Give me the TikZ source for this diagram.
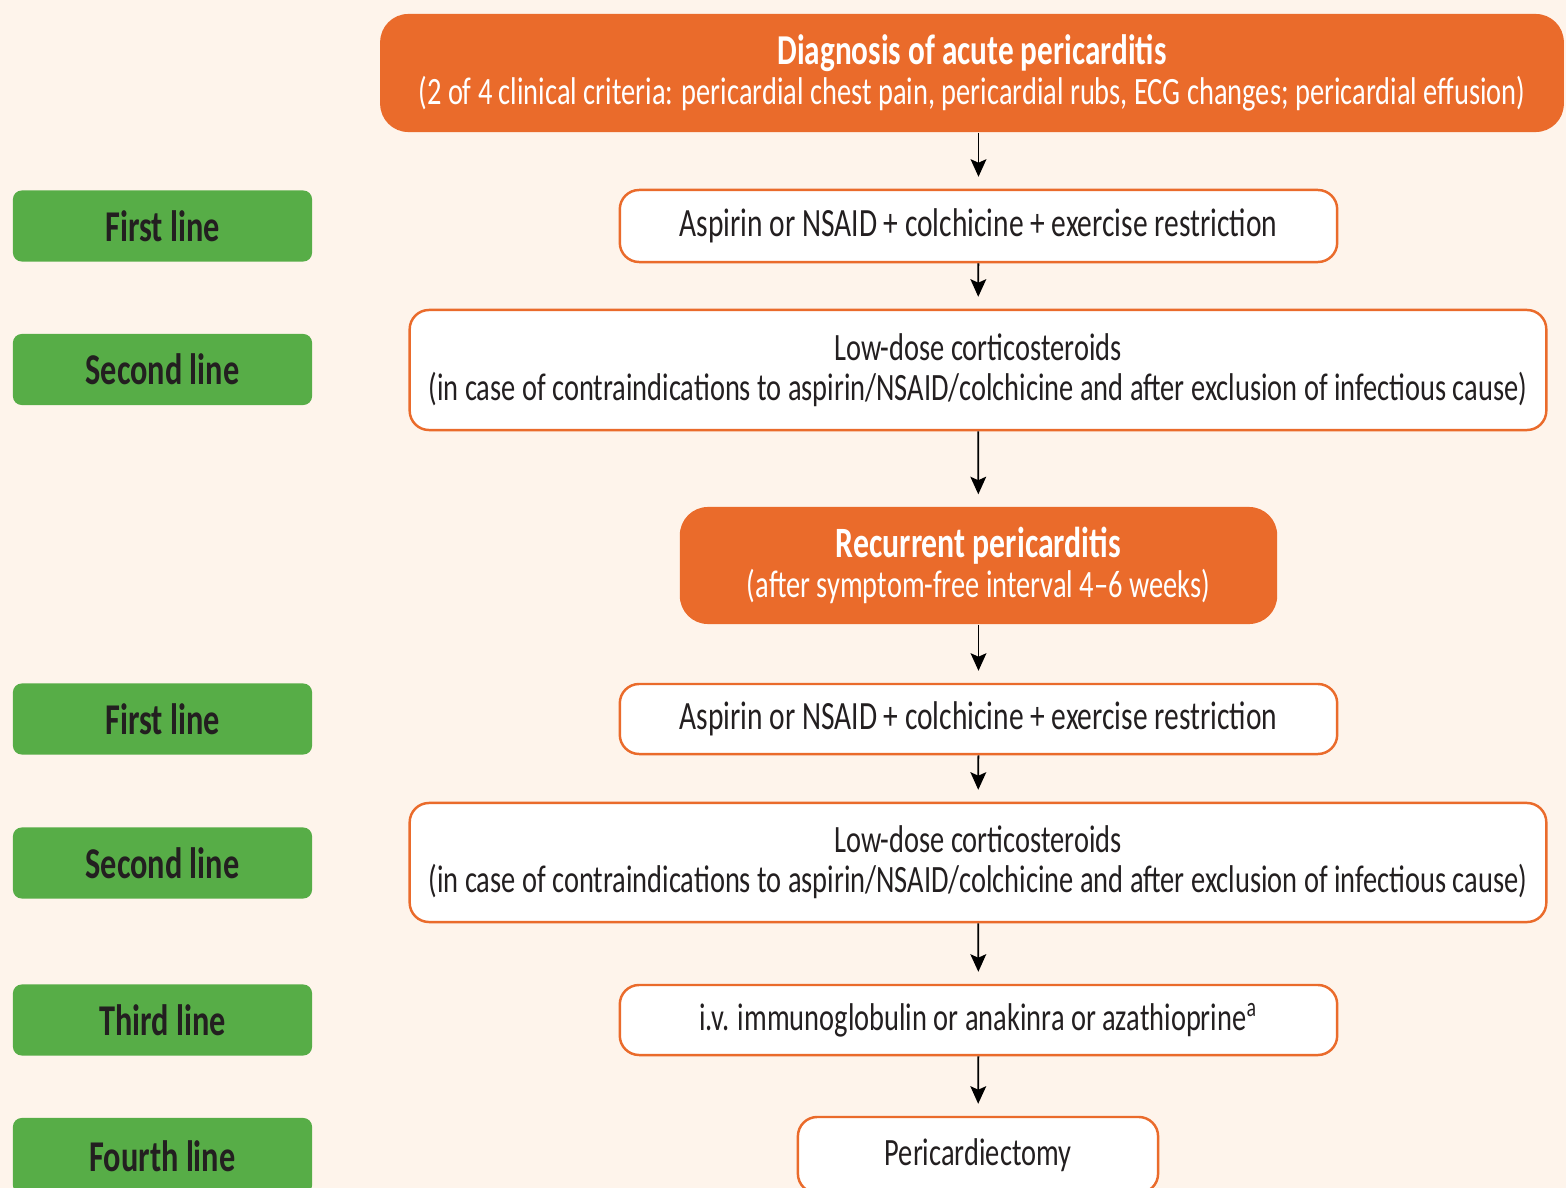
\documentclass[tikz,border=0pt]{standalone}
\usepackage{fontspec}
\setmainfont[FakeStretch=0.735]{Carlito}
\usetikzlibrary{arrows.meta}
\definecolor{cream}{HTML}{FEF4EB}
\definecolor{pcorange}{HTML}{EA6B2B}
\definecolor{pcgreen}{HTML}{57AD47}
\definecolor{pctext}{HTML}{231F20}
\tikzset{
  linelabel/.style={fill=pcgreen, rounded corners=2.5pt, minimum width=2.99cm,
    minimum height=0.71cm, inner sep=0pt, text=pctext,
    font=\fontsize{12.5}{12}\selectfont\bfseries},
  stagebox/.style={fill=pcorange, rounded corners=8pt, inner sep=0pt,
    text=white, align=center, font=\fontsize{11}{11.4}\selectfont},
  therapy/.style={draw=pcorange, line width=0.7pt, fill=white, rounded corners=5.5pt,
    inner sep=0pt, text=pctext, align=center, font=\fontsize{11}{11.4}\selectfont},
  flow/.style={-{Stealth[length=5pt,width=4.5pt,inset=1pt]}, line width=0.5pt,
    shorten >=3.4pt}
}
\begin{document}
\begin{tikzpicture}[x=0.01cm, y=-0.01cm]
  \fill[cream] (0,0) rectangle (1566,1188);
  \useasboundingbox (0,0) rectangle (1566,1188);
  \clip (0,0) rectangle (1566,1188);

  % stages
  \node[stagebox, minimum width=11.83cm, minimum height=1.18cm] (acute) at (972,73)
    {\textbf{\fontsize{12.1}{11.4}\selectfont Diagnosis of acute pericarditis}\\
     (2 of 4 clinical criteria: pericardial chest pain, pericardial rubs, ECG changes; pericardial effusion)};
  \node[stagebox, minimum width=5.97cm, minimum height=1.17cm] (recur) at (978.5,565.5)
    {\textbf{\fontsize{12.3}{11.4}\selectfont Recurrent pericarditis}\\
     (after symptom-free interval 4--6 weeks)};

  % therapies
  \node[therapy, minimum width=7.17cm, minimum height=0.72cm] (firstA) at (978.5,226)
    {\fontsize{11.4}{11.4}\selectfont Aspirin or NSAID + colchicine + exercise restriction};
  \node[therapy, minimum width=11.36cm, minimum height=1.20cm] (secondA) at (978,370)
    {Low-dose corticosteroids\\
     (in case of contraindications to aspirin/NSAID/colchicine and after exclusion of infectious cause)};
  \node[therapy, minimum width=7.17cm, minimum height=0.70cm] (firstR) at (978.5,719)
    {\fontsize{11.4}{11.4}\selectfont Aspirin or NSAID + colchicine + exercise restriction};
  \node[therapy, minimum width=11.36cm, minimum height=1.19cm] (secondR) at (978,862.5)
    {Low-dose corticosteroids\\
     (in case of contraindications to aspirin/NSAID/colchicine and after exclusion of infectious cause)};
  \node[therapy, minimum width=7.17cm, minimum height=0.70cm] (thirdR) at (978.5,1020)
    {i.v. immunoglobulin or anakinra or azathioprine\textsuperscript{a}};
  \node[therapy, minimum width=3.60cm, minimum height=0.76cm] (fourthR) at (978,1155)
    {Pericardiectomy};

  % line labels
  \node[linelabel] (lab1) at (162.5,226) {First line};
  \node[linelabel] (lab2) at (162.5,369.5) {Second line};
  \node[linelabel] (lab3) at (162.5,719) {First line};
  \node[linelabel] (lab4) at (162.5,863) {Second line};
  \node[linelabel] (lab5) at (162.5,1020) {Third line};
  \node[linelabel, minimum height=0.76cm] (lab6) at (162.5,1156) {Fourth line};

  % arrows
  \draw[flow] (acute.south -| firstA) -- (firstA);
  \draw[flow] (firstA) -- (secondA);
  \draw[flow] (secondA) -- (recur);
  \draw[flow] (recur) -- (firstR);
  \draw[flow] (firstR) -- (secondR);
  \draw[flow] (secondR) -- (thirdR);
  \draw[flow] (thirdR) -- (fourthR);
\end{tikzpicture}
\end{document}
